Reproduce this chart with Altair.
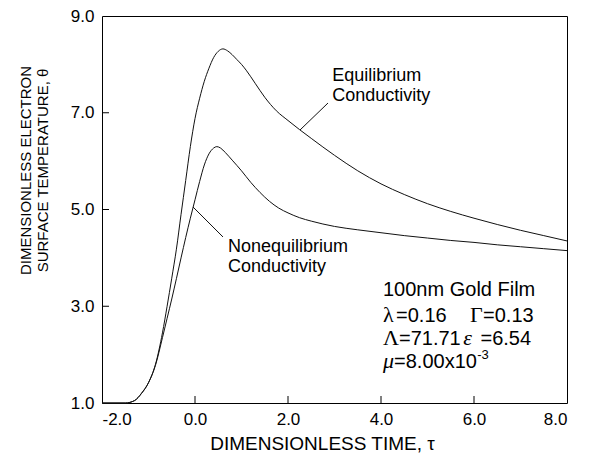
import altair as alt
import pandas as pd

# ---- data ----
tau_eq = [-2.0, -1.5, -1.3, -1.15, -1.0, -0.85, -0.7, -0.6, -0.5, -0.4,
          -0.3, -0.2, -0.1, 0.0, 0.1, 0.2, 0.3, 0.4, 0.5, 0.6,
          0.7, 0.8, 0.9, 1.0, 1.1, 1.3, 1.5, 1.75, 2.0, 2.25,
          2.5, 3.0, 3.5, 4.0, 4.5, 5.0, 5.5, 6.0, 6.5, 7.0,
          7.5, 8.0]
theta_eq = [1.0, 1.0, 1.05, 1.2, 1.42, 1.8, 2.45, 3.0, 3.58, 4.18,
            4.9, 5.6, 6.3, 6.88, 7.3, 7.65, 7.92, 8.14, 8.27, 8.32,
            8.28, 8.2, 8.1, 8.0, 7.88, 7.6, 7.32, 7.04, 6.84, 6.65,
            6.47, 6.12, 5.8, 5.53, 5.31, 5.12, 4.96, 4.82, 4.69, 4.57,
            4.46, 4.35]

tau_ne = [-2.0, -1.5, -1.3, -1.15, -1.0, -0.85, -0.7, -0.6, -0.5, -0.4,
          -0.3, -0.2, -0.1, 0.0, 0.1, 0.2, 0.3, 0.4, 0.47, 0.55,
          0.65, 0.8, 1.0, 1.2, 1.4, 1.6, 1.8, 2.0, 2.25, 2.5,
          3.0, 3.5, 4.0, 4.5, 5.0, 5.5, 6.0, 6.5, 7.0, 7.5,
          8.0]
theta_ne = [1.0, 1.0, 1.05, 1.2, 1.42, 1.78, 2.35, 2.75, 3.15, 3.57,
            4.0, 4.42, 4.82, 5.2, 5.58, 5.92, 6.15, 6.27, 6.3, 6.27,
            6.18, 6.02, 5.8, 5.56, 5.35, 5.17, 5.03, 4.93, 4.83, 4.76,
            4.65, 4.58, 4.52, 4.46, 4.41, 4.36, 4.32, 4.27, 4.23, 4.19,
            4.15]

x_ticks = [-2.0, 0.0, 2.0, 4.0, 6.0, 8.0]
y_ticks = [1.0, 3.0, 5.0, 7.0, 9.0]
x_dom = [-2.0, 8.0]
y_dom = [1.0, 9.0]

# annotation texts (data coordinates)
curve_text = [
    ("Equilibrium", 2.95, 7.656),
    ("Conductivity", 2.95, 7.243),
    ("Nonequilibrium", 0.71, 4.121),
    ("Conductivity", 0.71, 3.708),
]
info_sans = [
    ("100nm Gold Film", 4.043, 3.212),
    ("=0.16", 4.323, 2.674),
    ("=0.13", 6.194, 2.674),
    ("=71.71", 4.387, 2.199),
    ("=6.54", 6.14, 2.199),
    ("=8.00x10", 4.280, 1.723),
]
info_serif = [("λ", 4.043, 2.674), ("Γ", 5.914, 2.674), ("Λ", 4.043, 2.199)]
info_serif_it = [("ε", 5.77, 2.199), ("μ", 4.043, 1.723)]
info_sup = [("-3", 6.07, 1.91)]

pointers = [
    (2.258, 6.643, 2.860, 7.201),
    (-0.043, 5.052, 0.602, 4.432),
]

W, H = 465, 387
tick_px = 7

curves = pd.concat([
    pd.DataFrame({"tau": tau_eq, "theta": theta_eq, "series": "Equilibrium"}),
    pd.DataFrame({"tau": tau_ne, "theta": theta_ne, "series": "Nonequilibrium"}),
])

xs = alt.Scale(domain=x_dom, nice=False, zero=False)
ys = alt.Scale(domain=y_dom, nice=False, zero=False)

label_expr = "replace(format(datum.value, '.1f'), '\u2212', '-')"

x_axis = alt.Axis(values=x_ticks, labelExpr=label_expr, title="DIMENSIONLESS  TIME, τ",
                  titleX=220, titleY=46, titleBaseline="alphabetic", titleAlign="center",
                  titleFont="Liberation Sans", titleFontSize=19, titleFontWeight="normal",
                  labelPadding=8, labelFontSize=17)
y_axis = alt.Axis(values=y_ticks, labelExpr=label_expr,
                  title=["DIMENSIONLESS ELECTRON", "SURFACE TEMPERATURE, θ"],
                  titleX=-84, titleY=154, titleBaseline="top", titleAlign="center",
                  titleAngle=270, titleLineHeight=17,
                  titleFont="Liberation Sans", titleFontSize=15,
                  titleFontWeight="normal", labelPadding=8, labelFontSize=17)


def X(field):
    return alt.X(field, scale=xs, axis=x_axis)


def Y(field):
    return alt.Y(field, scale=ys, axis=y_axis)


lines = alt.Chart(curves).mark_line(color="#111111", strokeWidth=1.0, interpolate="monotone").encode(
    x=X("tau:Q"), y=Y("theta:Q"), detail="series:N",
)

dy_tick = (y_dom[1] - y_dom[0]) * tick_px / H
dx_tick = (x_dom[1] - x_dom[0]) * tick_px / W
xt = pd.DataFrame({"x": [v for v in x_ticks if x_dom[0] < v < x_dom[1]]})
xt["y"] = y_dom[0]
xt["y2"] = y_dom[0] + dy_tick
yt = pd.DataFrame({"y": [v for v in y_ticks if y_dom[0] < v < y_dom[1]]})
yt["x"] = x_dom[0]
yt["x2"] = x_dom[0] + dx_tick

xtick_rules = alt.Chart(xt).mark_rule(color="black", strokeWidth=1).encode(
    x=X("x:Q"), y=Y("y:Q"), y2="y2:Q")
ytick_rules = alt.Chart(yt).mark_rule(color="black", strokeWidth=1).encode(
    y=Y("y:Q"), x=X("x:Q"), x2="x2:Q")

ptr = pd.DataFrame(pointers, columns=["x", "y", "x2", "y2"])
ptr_rules = alt.Chart(ptr).mark_rule(color="#111111", strokeWidth=1).encode(
    x=X("x:Q"), y=Y("y:Q"), x2="x2:Q", y2="y2:Q")


def text_layer(rows, font, size, style="normal"):
    df = pd.DataFrame(rows, columns=["t", "x", "y"])
    return alt.Chart(df).mark_text(align="left", baseline="alphabetic", font=font,
                                   fontSize=size, fontStyle=style, color="black").encode(
        x=X("x:Q"), y=Y("y:Q"), text="t:N")


curve_labels = text_layer(curve_text, "Liberation Sans", 18)
info1 = text_layer(info_sans, "Liberation Sans", 20)
info2 = text_layer(info_serif, "Liberation Serif", 22)
info3 = text_layer(info_serif_it, "Liberation Serif", 22, "italic")
info4 = text_layer(info_sup, "Liberation Sans", 13)

chart = alt.layer(lines, xtick_rules, ytick_rules, ptr_rules, curve_labels,
                  info1, info2, info3, info4).properties(
    width=W, height=H,
    background="white",
    autosize=alt.AutoSizeParams(type="none"),
    padding={"left": 94, "top": 8, "right": 18, "bottom": 51},
).configure_view(stroke="black", strokeWidth=1).configure_axis(
    grid=False, ticks=False, tickSize=0, domain=False,
    labelFont="Liberation Sans", labelColor="black", titleColor="black",
)

chart.save("out.html", embed_options={"renderer": "svg", "actions": False})
